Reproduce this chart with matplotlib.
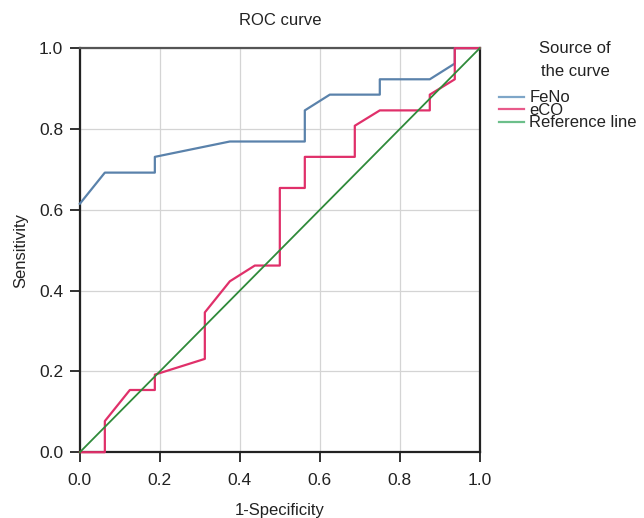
import matplotlib.pyplot as plt

plt.rcParams['font.family'] = ['Liberation Sans', 'DejaVu Sans']

# ROC points (16 negatives, 26 positives)
feno_x = [0, 0.0625, 0.1875, 0.1875, 0.375, 0.5625, 0.5625, 0.625, 0.75, 0.75, 0.875, 0.9375, 0.9375, 1.0]
feno_y = [0.615, 0.692, 0.692, 0.731, 0.769, 0.769, 0.846, 0.885, 0.885, 0.923, 0.923, 0.962, 1.0, 1.0]

eco_x = [0, 0.0625, 0.0625, 0.125, 0.1875, 0.1875, 0.3125, 0.3125, 0.375, 0.4375, 0.5, 0.5,
         0.5625, 0.5625, 0.6875, 0.6875, 0.75, 0.875, 0.875, 0.9375, 0.9375, 1.0]
eco_y = [0, 0, 0.077, 0.154, 0.154, 0.192, 0.231, 0.346, 0.423, 0.462, 0.462, 0.654,
         0.654, 0.731, 0.731, 0.808, 0.846, 0.846, 0.885, 0.923, 1.0, 1.0]

ref_x = [0, 1]
ref_y = [0, 1]

fig = plt.figure(figsize=(6.44, 5.18), dpi=100)
ax = fig.add_axes([0.124, 0.127, 0.621, 0.78])

ax.plot(feno_x, feno_y, color='#5a82ab', lw=1.6, label='FeNo', clip_on=False, zorder=3)
ax.plot(eco_x, eco_y, color='#e0306a', lw=1.6, label='eCO', clip_on=False, zorder=4)
ax.plot(ref_x, ref_y, color='#2f8a3a', lw=1.3, label='Reference line', clip_on=False, zorder=5)

ax.set_xlim(0, 1)
ax.set_ylim(0, 1)
ticks = [0.0, 0.2, 0.4, 0.6, 0.8, 1.0]
ax.set_xticks(ticks)
ax.set_yticks(ticks)
ax.set_xticklabels(['%.1f' % t for t in ticks])
ax.set_yticklabels(['%.1f' % t for t in ticks])
ax.tick_params(direction='out', length=7, width=1.3, labelsize=12.5, colors='#222222')
ax.tick_params(axis='x', pad=8)
ax.tick_params(axis='y', pad=5)
ax.grid(True, color='#d4d4d4', lw=0.9)
ax.set_axisbelow(True)
for s in ax.spines.values():
    s.set_linewidth(1.6)
    s.set_color('#222222')
ax.spines['top'].set_color('#555555')

ax.set_title('ROC curve', fontsize=12, pad=17, color='#222222')
ax.set_xlabel('1-Specificity', fontsize=12, labelpad=11, color='#222222')
ax.set_ylabel('Sensitivity', fontsize=12, labelpad=8, color='#222222')

fig.text(0.893, 0.884, 'Source of\nthe curve', ha='center', va='center', fontsize=12,
         linespacing=1.7, color='#222222')
leg = fig.legend(loc='upper left', bbox_to_anchor=(0.757, 0.848), frameon=False,
                 fontsize=12, labelspacing=-0.15, handlelength=1.5, handletextpad=0.3,
                 borderpad=0.2)
leg.get_lines()[0].set_color('#7ea6c8')
leg.get_lines()[1].set_color('#e85a8a')
leg.get_lines()[2].set_color('#6cbf8a')
for line in leg.get_lines():
    line.set_linewidth(1.6)
for t in leg.get_texts():
    t.set_color('#222222')

fig.savefig('out.png', dpi=100)
